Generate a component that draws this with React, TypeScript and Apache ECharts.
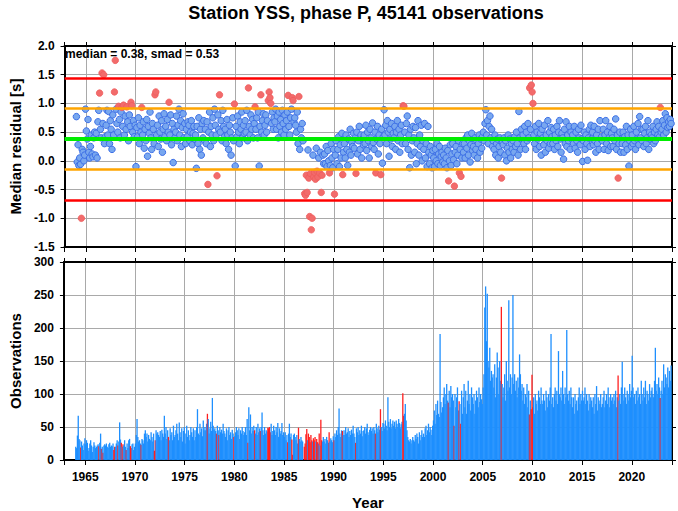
import React, { useEffect, useRef } from "react";
import * as echarts from "echarts";

const START_YEAR = 1964;
const MEDIAN = 0.38;
const SMAD = 0.53;
const TITLE = "Station YSS, phase P, 45141 observations";
const STATS_TEXT = "median = 0.38, smad = 0.53";
const X_MIN = 1962.85;
const X_MAX = 2024.05;

// monthly median residuals [s], Jan 1964 .. Dec 2023
const residuals: (number | null)[] = [
  0.77, -0.02, 0.28, -0.08, 0.05, -0.06, -1.0, 0.2, 0.15, 0.0, 0.1, 0.9,
  0.52, 0.38, 0.72, 0.15, 0.05, 0.25, 0.45, 0.12, 0.07, 0.4, 0.5, 0.1,
  0.48, 0.05, 0.68, 0.88, 1.18, 0.55, 0.4, 1.53, 0.65, 1.5, 0.3, 0.42,
  0.62, 0.88, 0.45, 0.86, 0.3, 0.7, 0.55, 0.2, 0.8, 0.45, 1.2, 1.75,
  0.9, 0.65, 0.5, 0.95, 0.72, 0.4, 0.85, 0.93, 0.6, 0.97, 0.45, 0.78,
  0.55, 0.94, 0.68, 0.35, 0.8, 0.6, 1.02, 0.96, 0.5, 0.7, 0.42, 0.62,
  -0.1, 0.58, 0.42, 0.75, 0.3, 0.62, 0.5, 0.93, 0.45, 0.68, 0.22, 0.55,
  0.35, 0.72, 0.08, 0.6, 0.48, 0.85, 0.4, 0.2, 0.65, 0.55, 0.3, 1.15,
  1.2, 0.45, 0.62, 0.25, 0.78, 0.5, 0.38, 0.7, 0.15, 0.55, 0.82, 0.42,
  0.6, 0.35, 0.72, 0.5, 1.02, 0.45, 0.8, 0.28, 0.65, -0.03, 0.55, 0.4,
  0.5, 0.78, 0.35, 0.62, 0.9, 0.45, 0.7, 0.25, 0.58, 0.82, 0.4, 0.65,
  0.3, 0.55, 0.42, 0.68, 0.62, 0.35, 0.5, 0.7, 0.28, 0.48, 0.6, 0.38,
  0.45, -0.13, 0.6, 0.3, 0.75, 0.2, 0.55, 0.1, 0.65, 0.4, 0.7, 0.35,
  0.55, 0.3, 0.68, -0.41, 0.5, 0.85, 0.25, 0.6, 0.45, 0.75, 0.35, 0.9,
  0.62, 0.45, -0.26, 0.8, 0.55, 1.15, 0.5, 0.7, 0.35, 0.88, 0.6, 0.42,
  0.55, 0.3, 0.72, 0.45, 0.2, 0.62, 0.5, 0.1, 0.4, 0.75, 0.35, 0.99,
  -0.09, 0.6, 0.42, 0.78, 0.5, 0.3, 0.68, 0.55, 0.85, 0.4, 0.62, 0.48,
  0.7, 0.5, 0.88, 0.35, 1.27, 0.6, 0.45, 0.8, 0.55, 0.72, 0.4, 0.65,
  0.94, 0.55, 0.75, 0.4, 0.85, -0.09, 0.6, 1.15, 0.5, 0.7, 0.82, 0.45,
  0.62, 0.8, 0.5, 0.7, 1.05, 1.2, 1.1, 1.0, 0.65, 0.85, 0.55, 0.75,
  0.68, 0.9, 0.55, 0.78, 0.4, 0.85, 0.6, 0.72, 0.5, 0.88, 0.65, 0.45,
  0.8, 0.55, 0.7, 0.85, 1.14, 0.6, 0.45, 0.75, 0.9, 1.1, 1.05, 0.68,
  0.75, 0.62, 0.5, 0.85, 0.3, 1.12, 0.2, 0.55, 0.4, 0.65, 0.35, null,
  -0.57, -0.6, -0.25, -0.55, 0.19, -0.3, -0.97, -0.22, -1.2, -1.0, 0.1, -0.28,
  -0.2, -0.32, 0.22, -0.18, -0.28, 0.05, -0.21, 0.15, -0.55, -0.25, 0.1, -0.05,
  0.12, -0.05, 0.25, -0.1, 0.18, 0.0, -0.21, -0.08, 0.3, 0.05, -0.12, 0.2,
  -0.58, 0.1, 0.35, -0.05, 0.2, 0.42, -0.1, 0.28, 0.05, 0.48, -0.24, 0.15,
  0.3, 0.05, 0.45, 0.2, -0.08, 0.38, 0.15, 0.55, 0.1, 0.32, 0.25, 0.48,
  0.22, 0.4, -0.22, 0.5, 0.12, 0.35, 0.6, 0.2, 0.45, 0.05, 0.38, 0.28,
  0.45, 0.3, 0.62, 0.18, 0.5, 0.35, 0.05, 0.55, 0.4, 0.25, 0.66, 0.32,
  0.2, 0.5, -0.21, 0.38, 0.6, 0.12, 0.45, 0.3, -0.24, 0.55, -0.04, 0.42,
  0.89, 0.45, 0.62, 0.3, 0.7, 0.5, 0.08, 0.55, 0.38, 0.65, 0.25, 0.48,
  0.4, 0.6, 0.2, 0.5, 0.7, 0.35, 0.55, 0.15, 0.45, 0.62, 0.3, 0.96,
  0.95, 0.5, 0.3, 0.65, 0.78, 0.2, 0.45, -0.12, 0.55, 0.1, 0.35, 0.6,
  0.4, 0.15, 0.58, -0.05, 0.3, 0.7, 0.1, 0.45, 0.25, 0.62, 0.0, 0.35,
  0.2, 0.65, 0.05, 0.3, -0.1, 0.6, 0.15, -0.05, 0.25, 0.1, -0.12, 0.18,
  0.05, -0.1, 0.2, 0.0, 0.3, -0.05, 0.12, 0.25, -0.08, 0.08, 0.15, -0.02,
  0.1, -0.05, 0.22, 0.05, -0.12, 0.18, -0.35, 0.0, 0.28, -0.08, 0.12, 0.3,
  0.02, -0.44, 0.15, 0.25, -0.05, 0.1, 0.35, -0.21, 0.2, -0.27, 0.05, 0.3,
  0.15, 0.3, 0.05, 0.4, 0.22, 0.45, 0.1, 0.35, -0.02, 0.28, 0.48, 0.18,
  0.25, 0.1, 0.4, 0.2, 0.35, 0.05, 0.3, 0.45, 0.15, 0.38, 0.22, 0.42,
  0.5, 0.35, 0.65, 0.89, 0.45, 0.7, 0.3, 0.6, 0.78, 0.4, 0.55, 0.25,
  0.35, 0.2, 0.45, 0.1, 0.3, 0.38, 0.05, 0.25, 0.4, 0.15, -0.3, 0.32,
  0.28, 0.4, 0.1, 0.35, 0.0, 0.22, 0.45, 0.15, 0.38, 0.05, 0.3, 0.2,
  0.35, 0.15, 0.42, 0.25, 0.5, 0.3, 0.1, 0.86, 0.4, 0.2, 0.55, 0.38,
  0.45, 0.3, 0.6, 0.2, 0.5, 0.35, 0.65, 0.4, 1.27, 0.55, 1.32, 1.2,
  1.0, 0.45, 0.3, 0.6, 0.2, 0.5, 0.38, 0.65, 0.25, 0.48, 0.1, 0.55,
  0.4, 0.28, 0.62, 0.15, 0.45, 0.35, 0.7, 0.22, 0.5, 0.3, 0.58, 0.42,
  0.3, 0.55, 0.2, 0.45, 0.35, 0.6, 0.25, 0.5, 0.7, 0.38, 0.15, 0.48,
  0.4, 0.03, 0.55, 0.3, 0.68, 0.25, 0.45, 0.35, 0.6, 0.2, 0.5, 0.38,
  0.45, 0.3, 0.6, 0.22, 0.5, 0.35, 0.15, 0.55, 0.4, 0.28, 0.62, 0.38,
  -0.01, 0.35, 0.5, 0.2, 0.45, 0.3, 0.01, 0.4, 0.55, 0.25, 0.62, 0.38,
  0.5, 0.28, 0.6, 0.35, 0.15, 0.45, 0.3, 0.55, 0.2, 0.7, 0.38, 0.42,
  0.35, 0.55, 0.2, 0.45, 0.7, 0.3, 0.5, 0.18, 0.4, 0.6, 0.25, 0.48,
  0.4, 0.25, 0.55, 0.35, 0.73, 0.2, 0.45, -0.3, 0.3, 0.5, 0.15, 0.38,
  0.3, 0.5, 0.15, 0.42, 0.28, 0.6, 0.2, 0.45, -0.09, 0.35, 0.55, 0.25,
  0.45, 0.3, 0.6, 0.35, 0.2, 0.5, 0.38, 0.65, 0.28, 0.77, 0.4, 0.55,
  0.35, 0.55, 0.25, 0.48, 0.6, 0.3, 0.4, 0.7, 0.2, 0.5, 0.38, 0.45,
  0.4, 0.6, 0.3, 0.5, 0.35, 0.55, 0.68, 0.45, 0.6, 0.42, 0.93, 0.5,
  0.55, 0.7, 0.45, 0.62, 0.82, 0.5, 0.75, 0.58, 0.68, 0.6, 0.72, 0.65,
];

// monthly number of observations, Jan 1964 .. Dec 2023
const counts: number[] = [
  20, 18, 37, 67, 32, 30, 19, 28, 22, 15, 25, 33,
  24, 30, 26, 14, 18, 25, 30, 22, 12, 20, 27, 22,
  18, 20, 22, 24, 21, 26, 40, 17, 20, 11, 22, 24,
  22, 25, 20, 18, 24, 26, 20, 22, 21, 25, 15, 20,
  20, 25, 30, 22, 28, 57, 31, 26, 20, 24, 22, 30,
  20, 15, 25, 18, 30, 32, 21, 18, 24, 25, 15, 20,
  25, 38, 62, 35, 28, 30, 25, 23, 32, 30, 25, 40,
  45, 35, 40, 28, 38, 32, 30, 42, 35, 28, 40, 14,
  30, 45, 40, 42, 38, 35, 44, 30, 46, 40, 35, 67,
  40, 50, 32, 45, 35, 30, 48, 38, 42, 30, 52, 35,
  38, 45, 55, 40, 30, 57, 42, 35, 48, 28, 44, 50,
  25, 40, 52, 35, 45, 30, 38, 50, 42, 35, 48, 30,
  45, 35, 50, 77, 40, 38, 55, 42, 48, 36, 60, 45,
  50, 45, 55, 70, 62, 40, 48, 58, 44, 94, 52, 46,
  48, 44, 40, 52, 45, 38, 50, 42, 46, 40, 55, 44,
  40, 35, 48, 30, 45, 50, 38, 42, 32, 46, 40, 35,
  36, 42, 50, 45, 38, 48, 32, 45, 40, 50, 44, 38,
  42, 50, 38, 62, 26, 80, 45, 69, 40, 50, 44, 52,
  45, 40, 50, 38, 55, 42, 48, 44, 50, 72, 45, 38,
  50, 40, 45, 43, 49, 48, 50, 42, 55, 38, 44, 52,
  45, 38, 50, 42, 56, 35, 48, 40, 44, 56, 38, 42,
  35, 42, 30, 38, 27, 40, 55, 35, 40, 31, 8, 38,
  40, 35, 30, 38, 25, 49, 32, 28, 35, 30, 28, 0,
  20, 25, 39, 47, 30, 40, 35, 27, 38, 30, 28, 33,
  30, 35, 28, 32, 27, 25, 40, 22, 61, 30, 28, 35,
  28, 32, 25, 35, 30, 26, 42, 28, 33, 30, 27, 36,
  30, 40, 35, 45, 38, 50, 78, 40, 35, 45, 44, 38,
  45, 38, 50, 40, 42, 48, 35, 44, 38, 46, 40, 52,
  40, 35, 26, 48, 42, 50, 38, 45, 40, 52, 36, 44,
  45, 50, 40, 48, 55, 42, 38, 46, 50, 44, 48, 40,
  50, 45, 40, 55, 48, 42, 52, 46, 77, 50, 44, 56,
  55, 48, 60, 52, 45, 95, 58, 50, 62, 48, 55, 60,
  52, 58, 48, 60, 55, 50, 62, 56, 48, 54, 58, 101,
  67, 70, 85, 60, 45, 35, 30, 28, 32, 25, 30, 35,
  30, 28, 38, 32, 40, 35, 25, 42, 30, 38, 45, 35,
  40, 35, 48, 52, 38, 45, 55, 42, 50, 46, 38, 52,
  60, 75, 55, 85, 68, 90, 70, 65, 191, 88, 72, 80,
  95, 110, 85, 100, 115, 90, 87, 105, 80, 112, 95, 100,
  90, 52, 100, 80, 95, 110, 75, 89, 85, 55, 105, 70,
  95, 115, 80, 105, 70, 90, 120, 85, 100, 75, 110, 95,
  85, 100, 70, 90, 105, 95, 80, 110, 88, 100, 92, 85,
  110, 130, 231, 263, 180, 252, 150, 140, 170, 120, 135, 125,
  130, 110, 145, 95, 125, 163, 140, 100, 150, 120, 232, 115,
  95, 110, 130, 90, 150, 120, 105, 242, 110, 130, 100, 125,
  250, 115, 130, 105, 120, 95, 125, 110, 160, 130, 105, 115,
  90, 110, 85, 100, 95, 115, 80, 105, 69, 90, 77, 129,
  80, 95, 70, 100, 85, 90, 75, 105, 95, 85, 110, 90,
  85, 100, 90, 75, 105, 95, 80, 100, 90, 110, 191, 85,
  95, 80, 100, 110, 90, 105, 85, 165, 100, 95, 110, 90,
  135, 100, 85, 110, 95, 197, 100, 90, 105, 85, 110, 95,
  80, 95, 70, 100, 85, 90, 75, 95, 110, 85, 100, 90,
  105, 90, 95, 110, 85, 100, 90, 75, 100, 85, 95, 90,
  80, 95, 70, 100, 85, 112, 75, 95, 90, 85, 100, 80,
  85, 95, 105, 80, 90, 100, 85, 110, 95, 80, 100, 90,
  95, 85, 100, 90, 105, 80, 95, 128, 90, 100, 85, 110,
  149, 100, 90, 110, 95, 85, 105, 100, 90, 115, 95, 105,
  158, 110, 95, 100, 85, 105, 90, 110, 95, 100, 85, 120,
  100, 90, 110, 95, 120, 85, 105, 100, 90, 115, 95, 105,
  110, 100, 95, 120, 170, 105, 115, 100, 125, 110, 94, 105,
  120, 100, 145, 110, 130, 125, 115, 140, 110, 135, 120, 143,
];

const FONT = '"Liberation Sans Narrow", "Liberation Sans", Arial, sans-serif';

function monthX(i: number): number {
  return START_YEAR + (i + 0.5) / 12;
}
function isOutlier(v: number): boolean {
  return v > MEDIAN + SMAD || v < MEDIAN - SMAD;
}

export default function App() {
  const ref = useRef<HTMLDivElement>(null);

  useEffect(() => {
    if (!ref.current) return;
    const chart = echarts.init(ref.current, undefined, { renderer: "svg" });

    const n = Math.min(residuals.length, counts.length);
    const blueDots: number[][] = [];
    const redDots: number[][] = [];
    const bars: any[] = [];
    for (let i = 0; i < n; i++) {
      const r = residuals[i];
      const x = monthX(i);
      const out = r !== null && isOutlier(r);
      if (r !== null) (out ? redDots : blueDots).push([x, r]);
      if (counts[i] > 0) {
        bars.push({
          value: [x, counts[i]],
          itemStyle: { color: out ? "#ff1f1f" : "#1e8ffe" },
        });
      }
    }

    const labelStyle = {
      fontFamily: FONT,
      fontWeight: "bold" as const,
      fontSize: 12,
      color: "#000",
    };
    const nameStyle = {
      fontFamily: FONT,
      fontWeight: "bold" as const,
      fontSize: 15,
      color: "#000",
    };
    const axisLine = { show: true, onZero: false, lineStyle: { color: "#000", width: 2 } };
    const gridSplit = { show: true, lineStyle: { color: "#a9a9a9", width: 1 } };
    const yearFmt = (v: number) => (Math.abs(v % 5) < 1e-6 ? String(Math.round(v)) : "");

    const xAxisBase = {
      type: "value" as const,
      min: X_MIN,
      max: X_MAX,
      splitNumber: 12,
      minInterval: 5,
      maxInterval: 5,
    };

    const option: any = {
      animation: false,
      backgroundColor: "#fff",
      grid: [
        { left: 60, right: 6, top: 46, height: 201 },
        { left: 60, right: 6, top: 262, height: 201 },
      ],
      xAxis: [
        {
          ...xAxisBase,
          gridIndex: 0,
          position: "bottom",
          axisLine,
          axisTick: { show: true, length: 5, lineStyle: { color: "#000" } },
          axisLabel: { show: false },
          splitLine: gridSplit,
        },
        {
          ...xAxisBase,
          gridIndex: 0,
          position: "top",
          axisLine,
          axisTick: { show: true, length: 4, lineStyle: { color: "#000" } },
          axisLabel: { show: false },
          splitLine: { show: false },
        },
        {
          ...xAxisBase,
          gridIndex: 1,
          position: "bottom",
          axisLine,
          axisTick: { show: true, length: 5, lineStyle: { color: "#000" } },
          axisLabel: { ...labelStyle, margin: 11, formatter: yearFmt },
          splitLine: gridSplit,
          name: "Year",
          nameLocation: "middle",
          nameGap: 35,
          nameTextStyle: nameStyle,
        },
        {
          ...xAxisBase,
          gridIndex: 1,
          position: "top",
          axisLine,
          axisTick: { show: true, length: 4, lineStyle: { color: "#000" } },
          axisLabel: { show: false },
          splitLine: { show: false },
        },
      ],
      yAxis: [
        {
          type: "value",
          gridIndex: 0,
          position: "left",
          min: -1.5,
          max: 2.0,
          interval: 0.5,
          axisLine,
          axisTick: { show: true, length: 4, lineStyle: { color: "#000" } },
          axisLabel: { ...labelStyle, margin: 10, formatter: (v: number) => v.toFixed(1) },
          splitLine: gridSplit,
          name: "Median residual [s]",
          nameLocation: "middle",
          nameGap: 39,
          nameTextStyle: nameStyle,
        },
        {
          type: "value",
          gridIndex: 0,
          position: "right",
          min: -1.5,
          max: 2.0,
          interval: 0.5,
          axisLine,
          axisTick: { show: true, length: 4, lineStyle: { color: "#000" } },
          axisLabel: { show: false },
          splitLine: { show: false },
        },
        {
          type: "value",
          gridIndex: 1,
          position: "left",
          min: 0,
          max: 300,
          interval: 50,
          axisLine,
          axisTick: { show: true, length: 4, lineStyle: { color: "#000" } },
          axisLabel: { ...labelStyle, margin: 10 },
          splitLine: gridSplit,
          name: "Observations",
          nameLocation: "middle",
          nameGap: 39,
          nameTextStyle: nameStyle,
        },
        {
          type: "value",
          gridIndex: 1,
          position: "right",
          min: 0,
          max: 300,
          interval: 50,
          axisLine,
          axisTick: { show: true, length: 4, lineStyle: { color: "#000" } },
          axisLabel: { show: false },
          splitLine: { show: false },
        },
      ],
      series: [
        {
          type: "scatter",
          xAxisIndex: 0,
          yAxisIndex: 0,
          data: [],
          z: 2,
          silent: true,
          markLine: {
            silent: true,
            symbol: "none",
            label: { show: false },
            data: [
              { yAxis: MEDIAN + 2 * SMAD, lineStyle: { color: "#ff0000", width: 2.5, type: "solid" } },
              { yAxis: MEDIAN - 2 * SMAD, lineStyle: { color: "#ff0000", width: 2.5, type: "solid" } },
              { yAxis: MEDIAN + SMAD, lineStyle: { color: "#ffa500", width: 2.5, type: "solid" } },
              { yAxis: MEDIAN - SMAD, lineStyle: { color: "#ffa500", width: 2.5, type: "solid" } },
              { yAxis: MEDIAN, lineStyle: { color: "#00ee00", width: 4, type: "solid" } },
            ],
          },
        },
        {
          type: "scatter",
          xAxisIndex: 0,
          yAxisIndex: 0,
          z: 3,
          symbolSize: 6.5,
          data: blueDots,
          itemStyle: { color: "#78a7ef", borderColor: "#3c6fe6", borderWidth: 1, opacity: 1 },
        },
        {
          type: "scatter",
          xAxisIndex: 0,
          yAxisIndex: 0,
          z: 3,
          symbolSize: 6.5,
          data: redDots,
          itemStyle: { color: "#f26b6b", borderColor: "#ef5c5c", borderWidth: 0.8, opacity: 1 },
        },
        {
          type: "bar",
          xAxisIndex: 2,
          yAxisIndex: 2,
          barWidth: 1.3,
          z: 3,
          data: bars,
        },
      ],
      graphic: [
        {
          type: "text",
          x: 366,
          y: 13,
          style: {
            text: TITLE,
            fontFamily: FONT,
            fontWeight: "bold",
            fontSize: 18,
            fill: "#000",
            align: "center",
            verticalAlign: "middle",
          },
        },
        {
          type: "text",
          x: 65,
          y: 54,
          z: 10,
          style: {
            text: STATS_TEXT,
            fontFamily: FONT,
            fontWeight: "bold",
            fontSize: 12,
            fill: "#000",
            align: "left",
            verticalAlign: "middle",
          },
        },
      ],
    };

    chart.setOption(option);
    return () => chart.dispose();
  }, []);

  return (
    <div
      ref={ref}
      style={{ position: "fixed", left: 0, top: 0, width: 678, height: 511, background: "#fff" }}
    />
  );
}
